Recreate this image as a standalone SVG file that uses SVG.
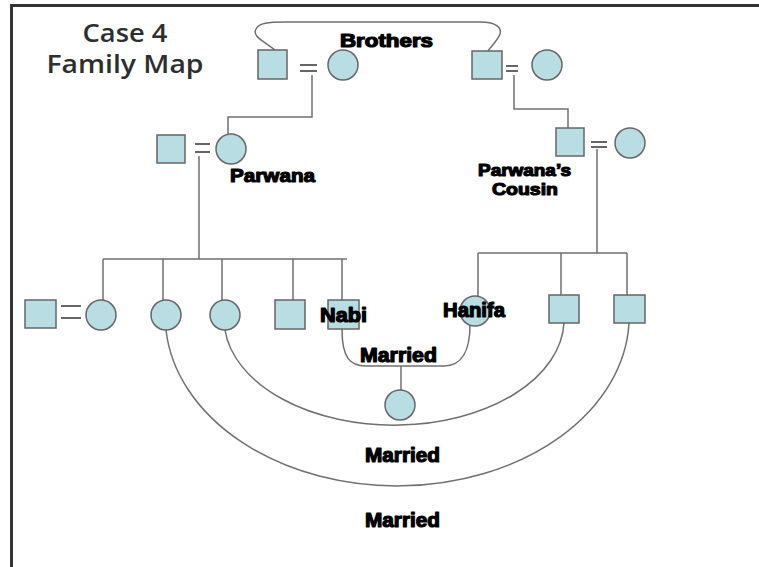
<svg xmlns="http://www.w3.org/2000/svg" width="759" height="567" viewBox="0 0 759 567">
<style>
.sh{fill:#b8dde3;stroke:#666;stroke-width:1.5}
.ln{fill:none;stroke:#707070;stroke-width:1.5}
.eq{stroke:#666;stroke-width:2}
.lbl{font-family:"Liberation Sans",Arial,sans-serif;font-weight:bold;fill:#000;stroke:#000;stroke-width:1.2;stroke-linejoin:round}
.ttl{font-family:"Open Sans","Liberation Sans",sans-serif;font-weight:600;font-size:25px;fill:#2e2e2e;text-anchor:middle}
</style>
<rect width="759" height="567" fill="#fff"/>
<path d="M11.5,567 V5.5 H759" fill="none" stroke="#333" stroke-width="3"/>
<g id="title">
<text class="ttl" x="125" y="42" textLength="85" lengthAdjust="spacingAndGlyphs">Case 4</text>
<text class="ttl" x="125" y="73" textLength="157" lengthAdjust="spacingAndGlyphs">Family Map</text>
</g>
<g id="connectors">
<path class="ln" d="M275,50 C262,40 252,36 256,29 C259,23 268,22 285,22 L480,22 C495,22 502,27 500,34 C498,40 492,45 488,51"/>
<path class="ln" d="M312,75 V117 H228 V134"/>
<path class="ln" d="M514,75 V109 H568 V128"/>
<path class="ln" d="M199,156 V259 M103,259 H347 M103,259 V300 M163,259 V300 M222,259 V300 M293,259 V300 M342,259 V300"/>
<path class="ln" d="M597,149 V253 M478,253 H627 M478,253 V296 M561,253 V295 M627,253 V295"/>
<path class="ln" d="M342,329 C342,358 350,366 366,366 L444,366 C462,366 470,350 470,325"/>
<path class="ln" d="M401,366 V390"/>
<path class="ln" d="M225,330 A170,106 0 0 0 564,323"/>
<path class="ln" d="M166,330 A232,170 0 0 0 629,323"/>
</g>
<g id="grandparents-left">
<rect class="sh" x="258" y="50" width="29" height="29"/>
<path class="eq" d="M300,65 H317 M300,71 H317"/>
<circle class="sh" cx="343" cy="65" r="15"/>
</g>
<g id="grandparents-right">
<rect class="sh" x="472" y="51" width="30" height="28"/>
<path class="eq" d="M506,66 H518 M506,71 H518"/>
<circle class="sh" cx="547" cy="65" r="15"/>
</g>
<g id="brothers-label">
<text class="lbl" x="340" y="47" font-size="18" textLength="93" lengthAdjust="spacingAndGlyphs">Brothers</text>
</g>
<g id="parwana-couple">
<rect class="sh" x="157" y="135" width="28" height="28"/>
<path class="eq" d="M195,144 H210 M195,152 H210"/>
<circle class="sh" cx="231" cy="149" r="15"/>
<text class="lbl" x="230" y="182" font-size="19" textLength="85" lengthAdjust="spacingAndGlyphs">Parwana</text>
</g>
<g id="cousin-couple">
<rect class="sh" x="556" y="128" width="28" height="28"/>
<path class="eq" d="M591,142 H607 M591,147 H607"/>
<circle class="sh" cx="630" cy="143" r="15"/>
<text class="lbl" x="478" y="176" font-size="17" textLength="93" lengthAdjust="spacingAndGlyphs">Parwana’s</text>
<text class="lbl" x="492" y="195" font-size="17" textLength="66" lengthAdjust="spacingAndGlyphs">Cousin</text>
</g>
<g id="child1-couple">
<rect class="sh" x="25" y="300" width="31" height="28"/>
<path class="eq" d="M61,306 H81 M61,318 H81"/>
<circle class="sh" cx="101" cy="315" r="15"/>
</g>
<g id="child2"><circle class="sh" cx="166" cy="315" r="15"/></g>
<g id="child3"><circle class="sh" cx="225" cy="315" r="15"/></g>
<g id="child4"><rect class="sh" x="275" y="300" width="30" height="29"/></g>
<g id="nabi">
<rect class="sh" x="328" y="300" width="31" height="29"/>
<text class="lbl" x="320" y="322" font-size="20" textLength="47" lengthAdjust="spacingAndGlyphs">Nabi</text>
</g>
<g id="hanifa">
<circle class="sh" cx="475" cy="311" r="15"/>
<text class="lbl" x="443" y="317" font-size="20" textLength="62" lengthAdjust="spacingAndGlyphs">Hanifa</text>
</g>
<g id="cousin-child2"><rect class="sh" x="549" y="295" width="30" height="28"/></g>
<g id="cousin-child3"><rect class="sh" x="614" y="295" width="31" height="28"/></g>
<g id="nabi-hanifa-child"><circle class="sh" cx="400" cy="405" r="15"/></g>
<g id="married-labels">
<text class="lbl" x="360" y="362" font-size="20" textLength="77" lengthAdjust="spacingAndGlyphs">Married</text>
<text class="lbl" x="365" y="462" font-size="20" textLength="75" lengthAdjust="spacingAndGlyphs">Married</text>
<text class="lbl" x="365" y="527" font-size="20" textLength="75" lengthAdjust="spacingAndGlyphs">Married</text>
</g>
</svg>
